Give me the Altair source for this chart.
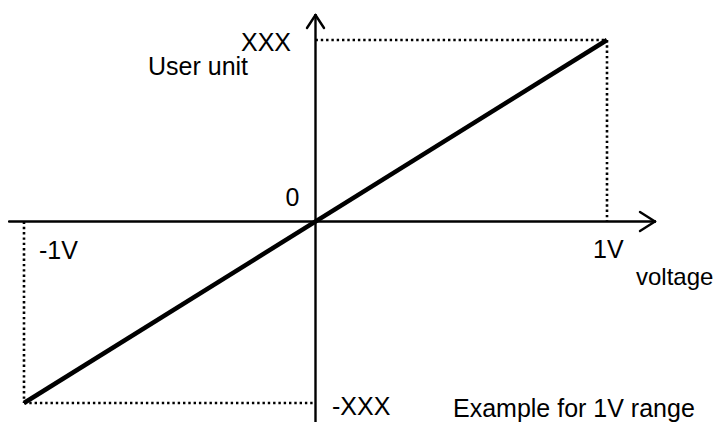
import altair as alt
import pandas as pd

# ---- data (in chart units: voltage in V, user unit scaled to XXX = 1) ----
volt = [-1.0, 1.0]          # -1V .. 1V
user = [-1.0, 1.0]          # -XXX .. XXX

# dotted guide segments (x, y, x2, y2)
guide_x = [-1.0, -1.0, 0.0, 1.0]
guide_y = [0.0, -1.0, 1.0, 1.0]
guide_x2 = [-1.0, 0.0, 1.0, 1.0]
guide_y2 = [-1.0, -1.0, 1.0, 0.0]

# axis segments incl. open arrow heads (x, y, x2, y2)
axis_x = [-1.0515, 0.0, 1.1647, 1.1647, 0.0, 0.0]
axis_y = [0.0, -1.17, 0.0, 0.0, 1.1377, 1.1377]
axis_x2 = [1.1647, 0.0, 1.1132, 1.1132, -0.0292, 0.0292]
axis_y2 = [0.0, 1.1377, 0.0523, -0.0523, 1.0661, 1.0661]

# text annotations
left_texts = ["XXX", "User unit", "-1V", "1V", "-XXX", "Example for 1V range"]
left_x = [-0.2556, -0.5746, -0.9485, 0.952, 0.0566, 0.4717]
left_y = [0.9394, 0.8072, -0.2066, -0.2011, -1.0661, -1.0771]
edge_texts = ["voltage"]
edge_x = [1.0995]
edge_y = [-0.3499]
center_texts = ["0"]
center_x = [-0.0789]
center_y = [0.0854]

FONT = "Liberation Sans"
FS = 25

xs = alt.Scale(domain=[-1, 1], range=[16, 599])
ys = alt.Scale(domain=[-1, 1], range=[395, 32])

def seg_df(x, y, x2, y2):
    return pd.DataFrame({"x": x, "y": y, "x2": x2, "y2": y2})

guides = alt.Chart(seg_df(guide_x, guide_y, guide_x2, guide_y2)).mark_rule(
    color="#000000", strokeWidth=2.6, strokeDash=[2.4, 2.9]
).encode(
    x=alt.X("x:Q", scale=xs, axis=None),
    y=alt.Y("y:Q", scale=ys, axis=None),
    x2="x2:Q",
    y2="y2:Q",
)

axes = alt.Chart(seg_df(axis_x, axis_y, axis_x2, axis_y2)).mark_rule(
    color="#000000", strokeWidth=2.4, strokeCap="round"
).encode(
    x=alt.X("x:Q", scale=xs, axis=None),
    y=alt.Y("y:Q", scale=ys, axis=None),
    x2="x2:Q",
    y2="y2:Q",
)

line = alt.Chart(pd.DataFrame({"v": volt, "u": user})).mark_line(
    color="#000000", strokeWidth=4.5
).encode(
    x=alt.X("v:Q", scale=xs, axis=None),
    y=alt.Y("u:Q", scale=ys, axis=None),
)

def text_layer(texts, tx, ty, align, fs=FS):
    return alt.Chart(pd.DataFrame({"t": texts, "x": tx, "y": ty})).mark_text(
        align=align, baseline="alphabetic", font=FONT, fontSize=fs, color="#000000"
    ).encode(
        x=alt.X("x:Q", scale=xs, axis=None),
        y=alt.Y("y:Q", scale=ys, axis=None),
        text="t:N",
    )

chart = alt.layer(
    guides,
    axes,
    line,
    text_layer(left_texts, left_x, left_y, "left"),
    text_layer(edge_texts, edge_x, edge_y, "left", 24),
    text_layer(center_texts, center_x, center_y, "center"),
).properties(
    width=706,
    height=414,
    padding=0,
    autosize=alt.AutoSizeParams(type="none"),
    background="#ffffff",
).configure_view(strokeWidth=0)

chart.save("out.html", embed_options={"renderer": "svg", "actions": False})
